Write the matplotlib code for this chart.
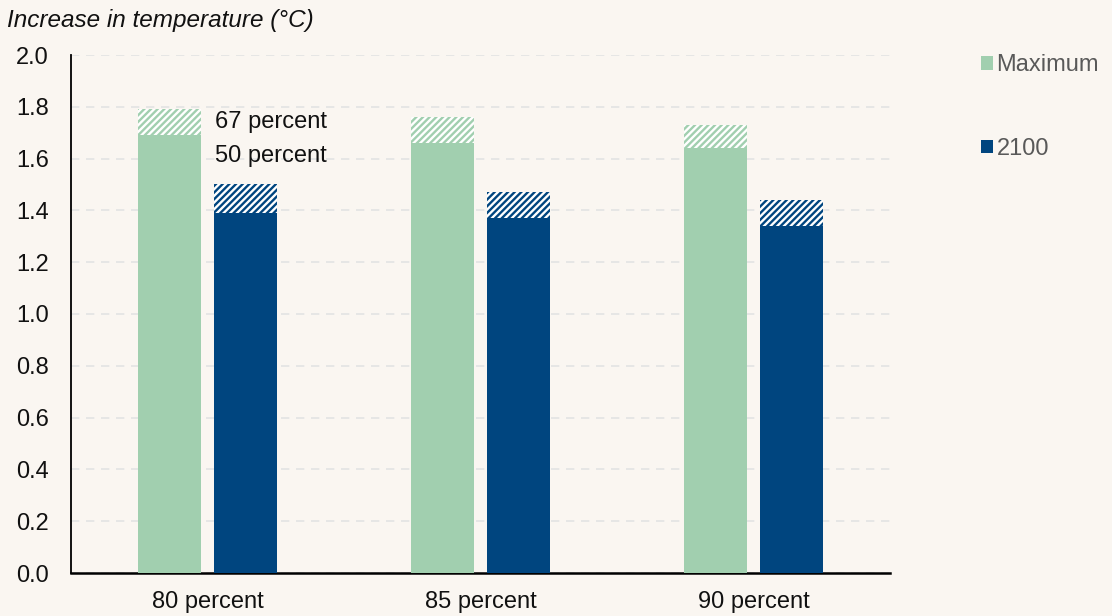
import matplotlib.pyplot as plt
import numpy as np

plt.rcParams['font.family'] = ['Liberation Sans', 'DejaVu Sans']
plt.rcParams['hatch.linewidth'] = 1.7

# probability of staying below the threshold
groups = ['80 percent', '85 percent', '90 percent']
max_50 = [1.69, 1.66, 1.64]
max_67 = [1.79, 1.76, 1.73]
y2100_50 = [1.39, 1.37, 1.34]
y2100_67 = [1.50, 1.47, 1.44]

green = '#A1CFAF'
blue = '#00457F'
bg = '#FAF6F1'
fs = 17

fig = plt.figure(figsize=(11.12, 6.16), dpi=100, facecolor=bg)
ax = fig.add_axes([71 / 1112, 1 - 573 / 616, (890 - 71) / 1112, (573 - 55) / 616])
ax.set_facecolor(bg)

x = np.arange(len(groups))
w = 0.23
off = 0.138

# solid part = 50 percent, hatched cap = extra up to 67 percent
ax.bar(x - off, max_50, w, color=green, label='Maximum', zorder=3)
ax.bar(x - off, np.array(max_67) - np.array(max_50), w, bottom=max_50,
       facecolor='white', edgecolor=green, hatch='/////', linewidth=0, zorder=3)
ax.bar(x + off, y2100_50, w, color=blue, label='2100', zorder=3)
ax.bar(x + off, np.array(y2100_67) - np.array(y2100_50), w, bottom=y2100_50,
       facecolor='white', edgecolor=blue, hatch='/////', linewidth=0, zorder=3)

lx = x[0] + off - w / 2 + 0.005
ax.text(lx, (max_67[0] + max_50[0]) / 2, '67 percent',
        fontsize=fs, va='center', ha='left', color='#111111')
ax.text(lx, max_50[0] - 0.08, '50 percent',
        fontsize=fs, va='center', ha='left', color='#111111')

ax.set_xlim(-0.5, 2.5)
ax.set_ylim(0, 2.0)
ticks = np.arange(0, 2.01, 0.2)
ax.set_yticks(ticks)
ax.set_yticklabels([f'{v:.1f}' for v in ticks])
ax.set_xticks(x)
ax.set_xticklabels(groups)
ax.tick_params(axis='both', length=0, labelsize=fs, colors='#111111')
ax.tick_params(axis='y', pad=16)
ax.tick_params(axis='x', pad=13)

ax.yaxis.grid(True, color='#E3E3E3', linestyle=(0, (5, 4)), linewidth=1.2, zorder=0)
ax.set_axisbelow(True)
for s in ['top', 'right']:
    ax.spines[s].set_visible(False)
ax.spines['left'].set_linewidth(1.3)
ax.spines['bottom'].set_linewidth(1.8)

fig.text(7 / 1112, 1 - 20 / 616, 'Increase in temperature (°C)', fontsize=fs + 0.5,
         style='italic', va='center', ha='left', color='#111111')

handles, labels = ax.get_legend_handles_labels()
fig.legend(handles, labels, loc='upper left', bbox_to_anchor=(960 / 1112, 1 - 33 / 616),
           frameon=False, fontsize=fs, handlelength=0.5, handleheight=0.5,
           handletextpad=0.15, labelspacing=2.6, labelcolor='#595959')

fig.savefig('out.png', dpi=100, facecolor=bg)
